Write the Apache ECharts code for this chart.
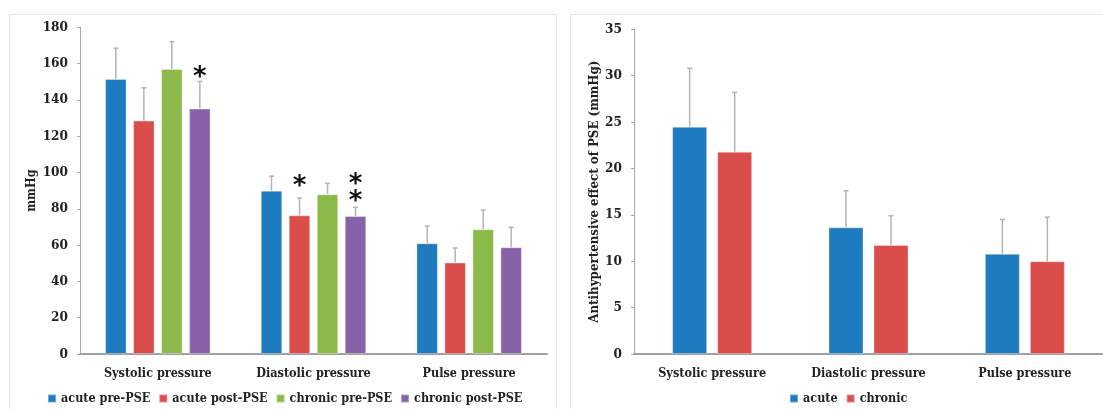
<!DOCTYPE html>
<html><head><meta charset="utf-8">
<script src="https://cdn.jsdelivr.net/npm/echarts@6/dist/echarts.min.js"></script>
<style>html,body{margin:0;padding:0;background:#fff}#c{width:1103px;height:409px}</style>
</head><body><div id="c"></div>
<script>
// ---- data ----
const categories = ['Systolic pressure', 'Diastolic pressure', 'Pulse pressure'];
// left panel: means and upper error bar ends (mmHg)
const leftNames = ['acute pre-PSE', 'acute post-PSE', 'chronic pre-PSE', 'chronic post-PSE'];
const acutePre = [151.5, 90, 61];
const acutePreErr = [168.5, 98, 70.5];
const acutePost = [128.6, 76.4, 50.4];
const acutePostErr = [146.7, 85.9, 58.4];
const chronicPre = [157, 88, 68.7];
const chronicPreErr = [172, 94, 79.3];
const chronicPost = [135.2, 76, 58.8];
const chronicPostErr = [150.2, 80.8, 69.8];
// significance asterisks: [series index, category index, y value]
const stars = [[3, 0, 155.5], [1, 1, 95], [3, 1, 87], [3, 1, 96.4]];
const leftTicks = [0, 180, 20];
// right panel
const rightNames = ['acute', 'chronic'];
const acuteEffect = [24.5, 13.65, 10.8];
const acuteEffectErr = [30.8, 17.6, 14.5];
const chronicEffect = [21.8, 11.75, 10.0];
const chronicEffectErr = [28.2, 14.9, 14.75];
const rightTicks = [0, 35, 5];

// ---- styling ----
const colors4 = ['#1F7BBF', '#DB4D4A', '#8BBA4A', '#8762A8'];
const colors2 = ['#1F7BBF', '#DB4D4A'];
const FONT = '"DejaVu Serif Condensed", "Liberation Serif", serif';
const txt = {fontFamily: FONT, fontWeight: 'bold', fontSize: 12.5, color: '#222'};

const L = {bw: 21.5, gap: 6.5, n: 4};
const R = {bw: 35, gap: 10, n: 2};

function offsetOf(cfg, i) { return (i - (cfg.n - 1) / 2) * (cfg.bw + cfg.gap); }

function errSeries(cfg, i, means, tops, gridIdx) {
  return {
    type: 'custom', xAxisIndex: gridIdx, yAxisIndex: gridIdx, z: 5, silent: true,
    encode: {x: 0, y: [1, 2]},
    data: means.map((m, k) => [k, m, tops[k]]),
    renderItem: function (params, api) {
      const p0 = api.coord([api.value(0), api.value(1)]);
      const p1 = api.coord([api.value(0), api.value(2)]);
      const x = p0[0] + offsetOf(cfg, i);
      const st = {stroke: '#B4B4B4', lineWidth: 1.5};
      return {type: 'group', children: [
        {type: 'line', shape: {x1: x, y1: p0[1], x2: x, y2: p1[1]}, style: st},
        {type: 'line', shape: {x1: x - 2.5, y1: p1[1], x2: x + 2.5, y2: p1[1]}, style: st}
      ]};
    }
  };
}

function barSeries(name, data, color, cfg, gridIdx) {
  return {name, type: 'bar', xAxisIndex: gridIdx, yAxisIndex: gridIdx, data,
    barWidth: cfg.bw, barGap: (cfg.gap / cfg.bw * 100) + '%',
    itemStyle: {color, borderColor: 'rgba(255,255,255,0.35)', borderWidth: 1}};
}

const leftMeans = [acutePre, acutePost, chronicPre, chronicPost];
const leftTops = [acutePreErr, acutePostErr, chronicPreErr, chronicPostErr];
const rightMeans = [acuteEffect, chronicEffect];
const rightTops = [acuteEffectErr, chronicEffectErr];

const series = [];
leftNames.forEach((n, i) => series.push(barSeries(n, leftMeans[i], colors4[i], L, 0)));
rightNames.forEach((n, i) => series.push(barSeries(n, rightMeans[i], colors2[i], R, 1)));
leftNames.forEach((n, i) => series.push(errSeries(L, i, leftMeans[i], leftTops[i], 0)));
rightNames.forEach((n, i) => series.push(errSeries(R, i, rightMeans[i], rightTops[i], 1)));
series.push({
  type: 'custom', xAxisIndex: 0, yAxisIndex: 0, z: 6, silent: true,
  encode: {x: 1, y: 2},
  data: stars,
  renderItem: function (params, api) {
    const p = api.coord([api.value(1), api.value(2)]);
    const x = p[0] + offsetOf(L, api.value(0));
    return {type: 'text', x: x, y: p[1] + 6, style: {text: '*', fontSize: 26, fontFamily: 'DejaVu Sans', fontWeight: 'bold', fill: '#111', align: 'center', verticalAlign: 'middle'}};
  }
});

function yAx(gridIdx, t, name, nameGap, nameSize) {
  return {type: 'value', gridIndex: gridIdx, min: t[0], max: t[1], interval: t[2],
    name, nameLocation: 'middle', nameGap, nameTextStyle: Object.assign({}, txt, {fontSize: nameSize}),
    axisLine: {show: true, lineStyle: {color: '#A8A8A8', width: 1}},
    axisTick: {show: true, length: 3, lineStyle: {color: '#A8A8A8'}},
    splitLine: {show: false},
    axisLabel: Object.assign({}, txt, {margin: 12, fontSize: 13.5})};
}
function xAx(gridIdx) {
  return {type: 'category', gridIndex: gridIdx, data: categories,
    axisLine: {lineStyle: {color: '#A0A0A0', width: 2}}, axisTick: {show: false},
    axisLabel: Object.assign({}, txt, {margin: 13, interval: 0})};
}

const chart = echarts.init(document.getElementById('c'), null, {renderer: 'canvas'});
chart.setOption({
  animation: false,
  backgroundColor: '#fff',
  graphic: [
    {type: 'rect', shape: {x: 9.5, y: 14.5, width: 547, height: 420}, style: {fill: 'none', stroke: '#E4E4E4', lineWidth: 1}, z: -1},
    {type: 'rect', shape: {x: 570.5, y: 14.5, width: 560, height: 420}, style: {fill: 'none', stroke: '#E4E4E4', lineWidth: 1}, z: -1}
  ],
  grid: [
    {left: 80, top: 27.3, width: 467, height: 326.7},
    {left: 634, top: 29.3, width: 472, height: 324.7}
  ],
  xAxis: [xAx(0), xAx(1)],
  yAxis: [yAx(0, leftTicks, 'mmHg', 41, 12.5), yAx(1, rightTicks, 'Antihypertensive effect of PSE (mmHg)', 33, 13.2)],
  legend: [
    {data: leftNames, left: 47, top: 392, padding: 0, itemWidth: 8, itemHeight: 8, itemGap: 8, icon: 'rect', textStyle: txt, selectedMode: false},
    {data: rightNames, left: 789, top: 392, padding: 0, itemWidth: 8, itemHeight: 8, itemGap: 8, icon: 'rect', textStyle: txt, selectedMode: false}
  ],
  series
});
</script></body></html>
